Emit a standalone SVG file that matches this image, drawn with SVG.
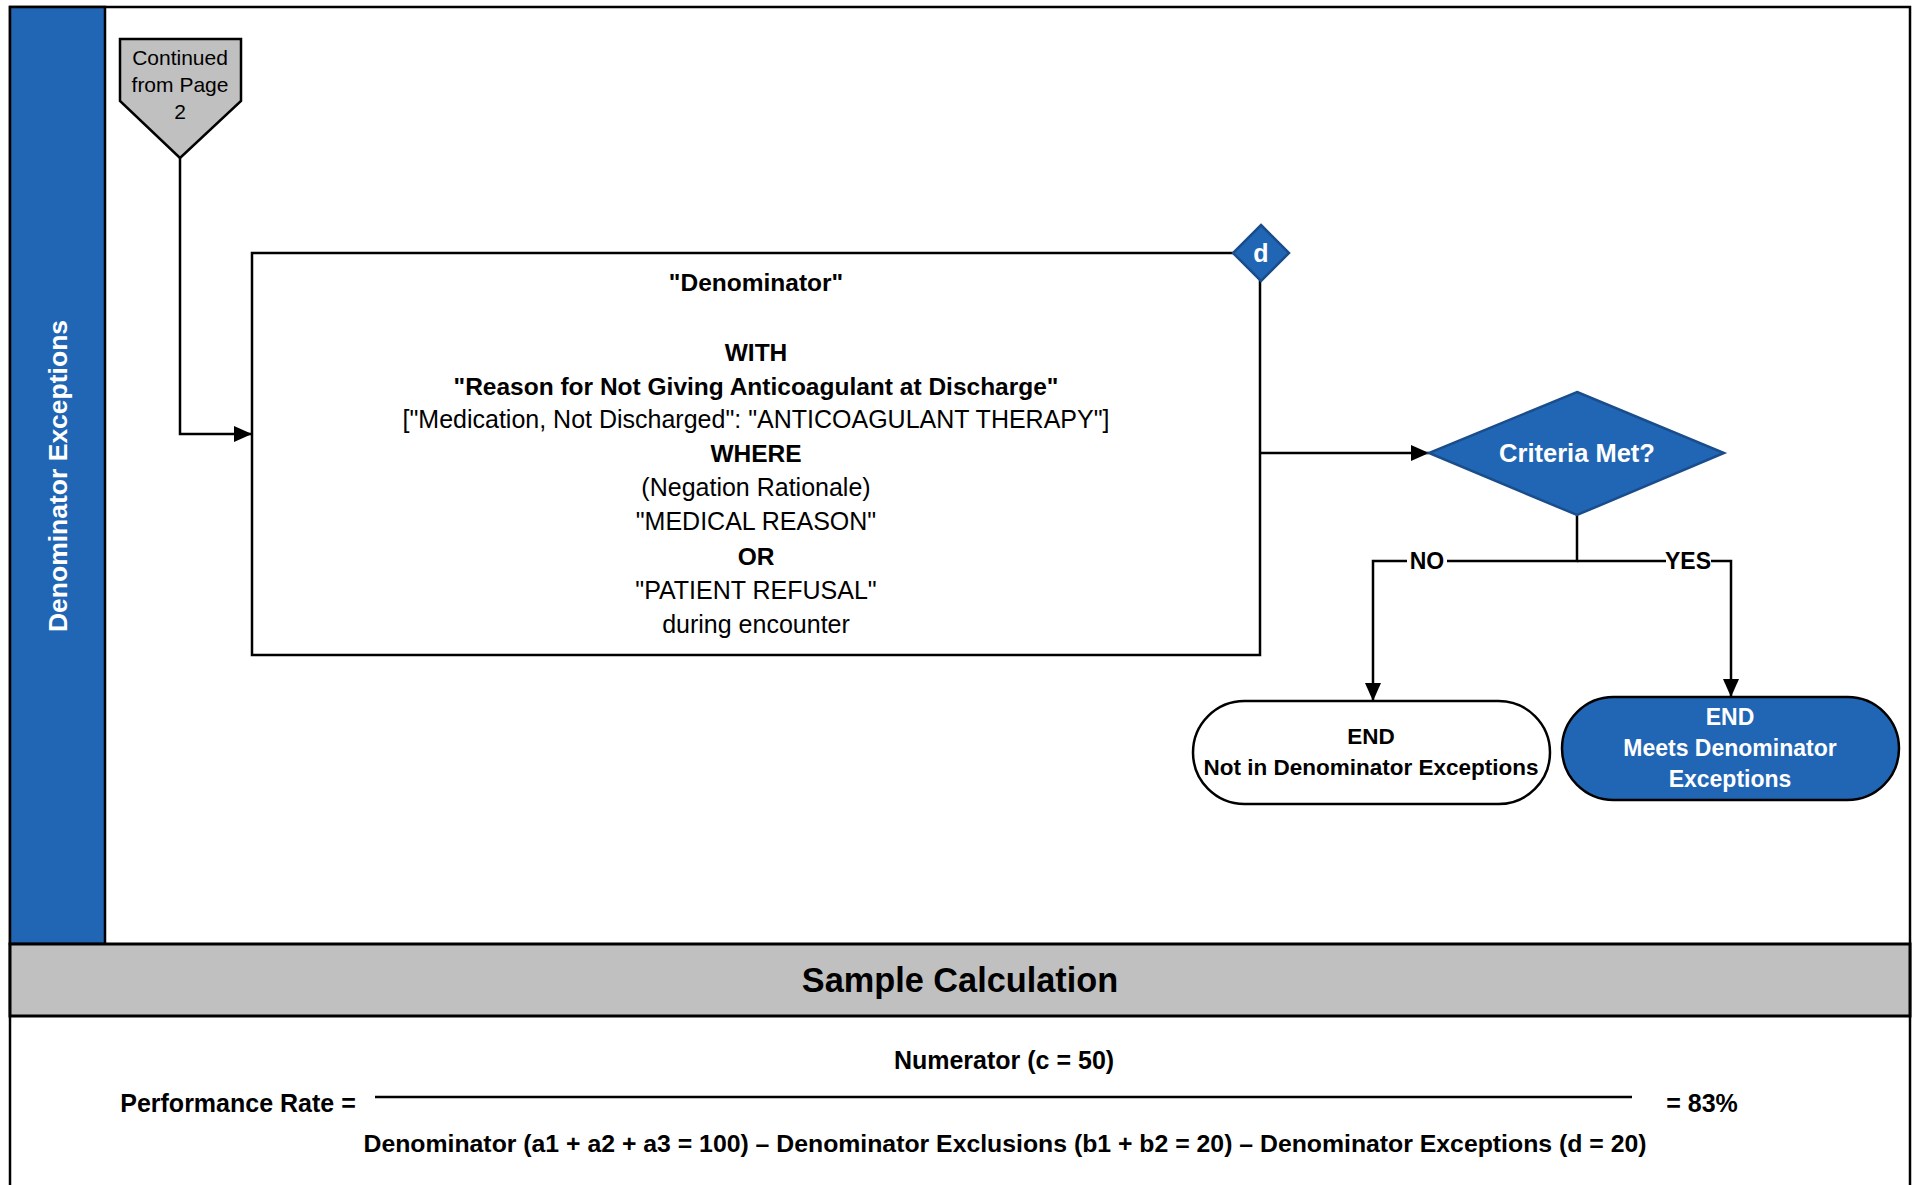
<svg xmlns="http://www.w3.org/2000/svg" width="1915" height="1185" viewBox="0 0 1915 1185">
<style>
text{font-family:"Liberation Sans",Arial,sans-serif;text-anchor:middle;dominant-baseline:central;fill:#000}
.b{font-weight:bold}
.w{fill:#fff}
.ln{fill:none;stroke:#000;stroke-width:2.5}
.blue{fill:#2166b5;stroke:#1a4d8c;stroke-width:2.5}
</style>
<defs>
<marker id="arr" markerUnits="userSpaceOnUse" markerWidth="20" markerHeight="16" refX="18" refY="8" orient="auto">
<path d="M0,0 L18,8 L0,16 Z" fill="#000"/>
</marker>
</defs>
<rect width="1915" height="1185" fill="#fff"/>
<g id="frame">
<rect x="10" y="7" width="1900" height="1190" fill="none" stroke="#000" stroke-width="2.5"/>
<rect x="10" y="7" width="95" height="937" fill="#2166b5" stroke="#000" stroke-width="2.5"/>
<text class="b w" x="58" y="476" font-size="26.5" transform="rotate(-90 58 476)">Denominator Exceptions</text>
<rect x="10" y="944" width="1900" height="72" fill="#c0c0c0" stroke="#000" stroke-width="3"/>
<text class="b" x="960" y="980" font-size="34.3">Sample Calculation</text>
</g>
<g id="connectors">
<path class="ln" d="M180,158 V434 H252" marker-end="url(#arr)"/>
<path class="ln" d="M1260,453 H1429" marker-end="url(#arr)"/>
<path class="ln" d="M1577,515 V561 H1373 V701" marker-end="url(#arr)"/>
<path class="ln" d="M1577,561 H1731 V697" marker-end="url(#arr)"/>
<rect x="1407" y="549" width="40" height="24" fill="#fff"/>
<text class="b" x="1427" y="561" font-size="23">NO</text>
<rect x="1666" y="549" width="45" height="24" fill="#fff"/>
<text class="b" x="1688" y="561" font-size="23">YES</text>
</g>
<g id="offpage">
<path d="M120,39 H241 V101 L180,158 L120,101 Z" fill="#c0c0c0" stroke="#000" stroke-width="2.5"/>
<text x="180" y="57" font-size="21">Continued</text>
<text x="180" y="84" font-size="21">from Page</text>
<text x="180" y="111" font-size="21">2</text>
</g>
<g id="denominator">
<rect x="252" y="253" width="1008" height="402" fill="#fff" stroke="#000" stroke-width="2.5"/>
<text class="b" x="756" y="282" font-size="24.5">"Denominator"</text>
<text class="b" x="756" y="352" font-size="24.5">WITH</text>
<text class="b" x="756" y="386" font-size="24.5">"Reason for Not Giving Anticoagulant at Discharge"</text>
<text x="756" y="419" font-size="25">["Medication, Not Discharged": "ANTICOAGULANT THERAPY"]</text>
<text class="b" x="756" y="453" font-size="24.5">WHERE</text>
<text x="756" y="487" font-size="25">(Negation Rationale)</text>
<text x="756" y="521" font-size="25">"MEDICAL REASON"</text>
<text class="b" x="756" y="556" font-size="24.5">OR</text>
<text x="756" y="590" font-size="25">"PATIENT REFUSAL"</text>
<text x="756" y="624" font-size="25">during encounter</text>
</g>
<g id="d-marker">
<path class="blue" d="M1261,225 L1289,253 L1261,281 L1233,253 Z"/>
<text class="b w" x="1261" y="253" font-size="25">d</text>
</g>
<g id="criteria">
<path class="blue" d="M1577,392 L1724,453 L1577,515 L1429,453 Z"/>
<text class="b w" x="1577" y="453" font-size="25.5">Criteria Met?</text>
</g>
<g id="end-not">
<rect x="1193" y="701" width="357" height="103" rx="51.5" fill="#fff" stroke="#000" stroke-width="2.5"/>
<text class="b" x="1371" y="736" font-size="22.5">END</text>
<text class="b" x="1371" y="767" font-size="22.5">Not in Denominator Exceptions</text>
</g>
<g id="end-meets">
<rect class="blue" x="1562" y="697" width="337" height="103" rx="51.5" style="stroke:#000"/>
<text class="b w" x="1730" y="717" font-size="23">END</text>
<text class="b w" x="1730" y="748" font-size="23">Meets Denominator</text>
<text class="b w" x="1730" y="779" font-size="23">Exceptions</text>
</g>
<g id="calculation">
<text class="b" x="1004" y="1060" font-size="25">Numerator (c = 50)</text>
<line x1="375" y1="1097" x2="1632" y2="1097" stroke="#000" stroke-width="2.5"/>
<text class="b" x="238" y="1103" font-size="25">Performance Rate =</text>
<text class="b" x="1702" y="1103" font-size="25">= 83%</text>
<text class="b" x="1005" y="1143" font-size="24.8">Denominator (a1 + a2 + a3 = 100) – Denominator Exclusions (b1 + b2 = 20) – Denominator Exceptions (d = 20)</text>
</g>
</svg>
